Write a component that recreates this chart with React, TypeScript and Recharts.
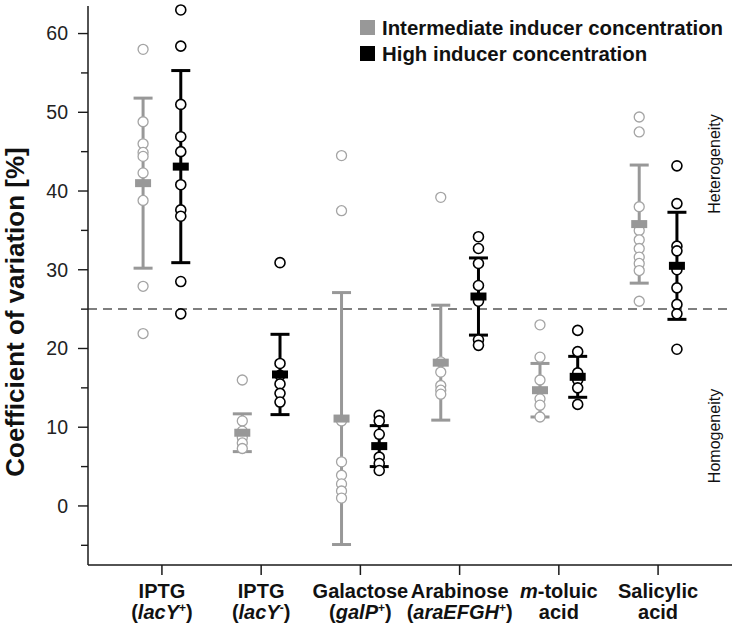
import { ErrorBar, ReferenceLine, Scatter, ScatterChart, XAxis, YAxis } from 'recharts';

// *text* = italic, ^text^ = superscript
const CATEGORY_TOP = ['IPTG', 'IPTG', 'Galactose', 'Arabinose', '*m*-toluic', 'Salicylic'];
const CATEGORY_BOTTOM = ['(*lacY*^+^)', '(*lacY*^-^)', '(*galP*^+^)', '(*araEFGH*^+^)', 'acid', 'acid'];

const INTERMEDIATE_POINTS = [
  [58.0, 48.8, 46.0, 44.9, 44.4, 42.3, 38.8, 27.9, 21.9],
  [16.0, 10.8, 9.5, 8.7, 8.0, 7.3],
  [44.5, 37.5, 10.8, 5.6, 3.9, 2.8, 1.9, 1.0],
  [39.2, 18.3, 17.0, 15.3, 14.7, 14.2],
  [23.0, 18.9, 16.0, 13.6, 12.8, 11.3],
  [49.4, 47.5, 38.0, 35.0, 33.8, 32.7, 31.6, 30.8, 29.9, 26.0],
];
const INTERMEDIATE_MEAN = [41.0, 9.3, 11.1, 18.2, 14.7, 35.8];
const INTERMEDIATE_SD = [10.8, 2.4, 16.0, 7.3, 3.4, 7.5];

const HIGH_POINTS = [
  [63.0, 58.4, 51.0, 46.9, 45.0, 40.8, 37.6, 36.8, 28.5, 24.4],
  [30.9, 18.1, 16.6, 15.5, 14.3, 13.2],
  [11.5, 10.8, 9.1, 6.2, 5.4, 4.5],
  [34.2, 32.7, 30.8, 28.0, 26.0, 21.1, 20.4],
  [22.3, 19.6, 16.9, 16.0, 15.0, 12.9],
  [43.2, 38.4, 33.0, 32.4, 30.0, 27.7, 25.6, 24.4, 19.9],
];
const HIGH_MEAN = [43.1, 16.7, 7.6, 26.6, 16.4, 30.5];
const HIGH_SD = [12.2, 5.1, 2.6, 4.9, 2.6, 6.8];

const Y_TICKS = [-5, 0, 5, 10, 15, 20, 25, 30, 35, 40, 45, 50, 55, 60];
const THRESHOLD = 25;

const FONT = '"Liberation Sans", Arial, Helvetica, sans-serif';
const GREY = '#989898';
const GREY_RING = '#a4a4a4';
const INK = '#1a1a1a';
const SHIFT = 0.19;

const pointRows = (groups: number[][], side: number) =>
  groups.flatMap((vals, i) => vals.map((v) => ({ x: i + 1 + side * SHIFT, y: v })));

const meanRows = (means: number[], sds: number[], side: number) =>
  means.map((m, i) => ({ x: i + 1 + side * SHIFT, y: m, sd: sds[i] }));

const ring = (color: string, w: number) => (p: any) =>
  <circle cx={p.cx} cy={p.cy} r={5} fill="#fff" stroke={color} strokeWidth={w} />;

const block = (color: string) => (p: any) =>
  <rect x={p.cx - 8} y={p.cy - 4} width={16} height={8} fill={color} />;

const nothing = () => <g />;

function segments(label: string) {
  const parts = label.split(/(\*[^*]+\*|\^[^^]+\^)/).filter(Boolean);
  let lift = 0;
  return parts.map((p, k) => {
    const back = lift;
    lift = 0;
    if (p.startsWith('*')) return <tspan key={k} dy={back} fontStyle="italic">{p.slice(1, -1)}</tspan>;
    if (p.startsWith('^')) {
      lift = 7;
      return <tspan key={k} dy={back - 7} fontSize={12}>{p.slice(1, -1)}</tspan>;
    }
    return <tspan key={k} dy={back}>{p}</tspan>;
  });
}

const CategoryTick = ({ x, y, payload }: any) => {
  const i = Math.round(payload.value) - 1;
  return (
    <g fontFamily={FONT} fontWeight="bold" fontSize={20} fill="#111" textAnchor="middle">
      <text x={x} y={y + 23}>{segments(CATEGORY_TOP[i])}</text>
      <text x={x} y={y + 44}>{segments(CATEGORY_BOTTOM[i])}</text>
    </g>
  );
};

const ValueTick = ({ x, y, payload }: any) => {
  const major = payload.value % 10 === 0;
  return (
    <g>
      <line x1={x - (major ? 10 : 7)} x2={x} y1={y} y2={y} stroke={INK} strokeWidth={1.4} />
      {major && (
        <text x={x - 20} y={y + 6.9} textAnchor="end" fontFamily={FONT} fontSize={19.5} fill="#222">
          {payload.value}
        </text>
      )}
    </g>
  );
};

export default function App() {
  const greyPts = pointRows(INTERMEDIATE_POINTS, -1);
  const blackPts = pointRows(HIGH_POINTS, 1);
  const greyMean = meanRows(INTERMEDIATE_MEAN, INTERMEDIATE_SD, -1);
  const blackMean = meanRows(HIGH_MEAN, HIGH_SD, 1);

  return (
    <div style={{ position: 'relative', width: 733, height: 627, background: '#fff' }}>
      <style>{'body{margin:0}'}</style>
      <ScatterChart width={733} height={627} margin={{ top: 6, right: 1, bottom: 0, left: 0 }}>
        <XAxis
          type="number"
          dataKey="x"
          domain={[0.255, 6.745]}
          ticks={[1, 2, 3, 4, 5, 6]}
          interval={0}
          height={62}
          tickSize={10}
          tickMargin={0}
          axisLine={{ stroke: INK, strokeWidth: 1.5 }}
          tickLine={{ stroke: INK, strokeWidth: 1.5 }}
          tick={<CategoryTick />}
        />
        <YAxis
          type="number"
          dataKey="y"
          domain={[-7.5, 63.5]}
          ticks={Y_TICKS}
          interval={0}
          width={88}
          tickSize={0}
          tickMargin={0}
          tickLine={false}
          axisLine={{ stroke: INK, strokeWidth: 1.5 }}
          tick={<ValueTick />}
        />
        <ReferenceLine y={THRESHOLD} stroke="#555" strokeWidth={1.5} strokeDasharray="9 6" />
        <Scatter data={greyMean} shape={nothing} isAnimationActive={false}>
          <ErrorBar dataKey="sd" direction="y" width={9.5} stroke={GREY} strokeWidth={3} isAnimationActive={false} />
        </Scatter>
        <Scatter data={blackMean} shape={nothing} isAnimationActive={false}>
          <ErrorBar dataKey="sd" direction="y" width={9.5} stroke="#000" strokeWidth={3} isAnimationActive={false} />
        </Scatter>
        <Scatter data={greyPts} shape={ring(GREY_RING, 1.3)} isAnimationActive={false} />
        <Scatter data={blackPts} shape={ring('#000', 1.6)} isAnimationActive={false} />
        <Scatter data={greyMean} shape={block(GREY)} isAnimationActive={false} />
        <Scatter data={blackMean} shape={block('#000')} isAnimationActive={false} />
      </ScatterChart>

      <svg width={733} height={627} style={{ position: 'absolute', left: 0, top: 0, pointerEvents: 'none' }}>
        <g fontFamily={FONT}>
          <rect x={360} y={20} width={15} height={15} fill={GREY} />
          <rect x={360} y={46} width={15} height={15} fill="#000" />
          <text x={382} y={35} fontSize={20.4} fontWeight="bold" fill="#111">Intermediate inducer concentration</text>
          <text x={382} y={61} fontSize={20.4} fontWeight="bold" fill="#111">High inducer concentration</text>
          <text x={24} y={312} transform="rotate(-90 24 312)" textAnchor="middle" fontSize={26} fontWeight="bold" fill="#111">
            Coefficient of variation [%]
          </text>
          <text x={720} y={164} transform="rotate(-90 720 164)" textAnchor="middle" fontSize={16} fill="#111">
            Heterogeneity
          </text>
          <text x={720} y={436} transform="rotate(-90 720 436)" textAnchor="middle" fontSize={16} fill="#111">
            Homogeneity
          </text>
        </g>
      </svg>
    </div>
  );
}
